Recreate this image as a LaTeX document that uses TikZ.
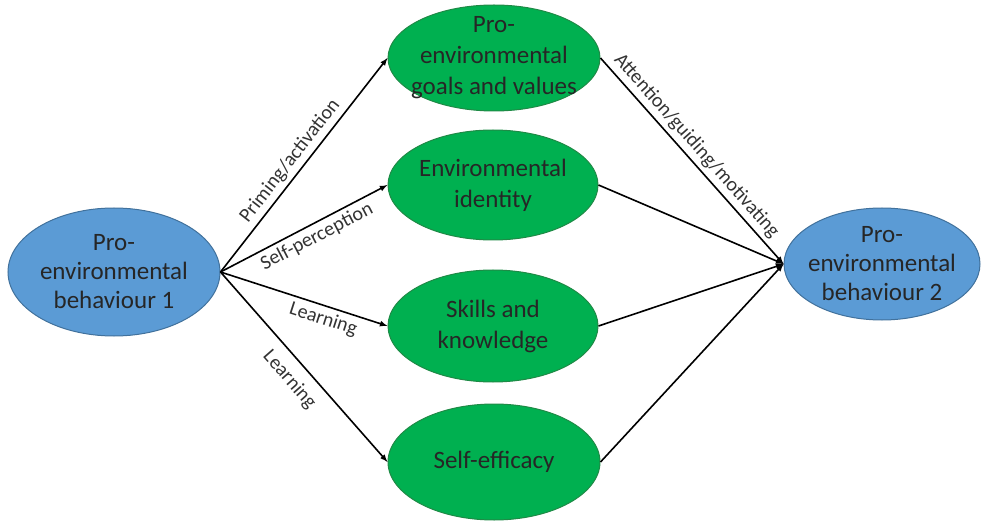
\documentclass[tikz,border=0pt]{standalone}
\usepackage{fontspec}
\setmainfont{Carlito}
\usetikzlibrary{shapes.geometric}
\definecolor{behblue}{HTML}{5B9BD5}
\definecolor{behline}{HTML}{41719C}
\definecolor{motgreen}{HTML}{00B050}
\definecolor{motline}{HTML}{1F8A46}

\begin{document}
\begin{tikzpicture}[x=1pt,y=-1pt,
  beh/.style={ellipse,draw=behline,fill=behblue,line width=1pt,inner sep=-20pt,align=center,text=black!85,font=\fontsize{25}{29}\selectfont},
  mot/.style={ellipse,draw=motline,fill=motgreen,line width=1pt,inner sep=-20pt,align=center,text=black!85,font=\fontsize{25}{31}\selectfont},
  conn/.style={-latex,line width=1.6pt},
  lbl/.style={sloped,text=black!80,inner sep=4pt,font=\fontsize{20}{24}\selectfont}]
\useasboundingbox (0,0) rectangle (982,521);
\node[beh,minimum width=212pt,minimum height=128pt] (beh1) at (114,272) {Pro-\\environmental\\behaviour 1};
\node[beh,minimum width=196pt,minimum height=112pt] (beh2) at (882,264) {Pro-\\environmental\\behaviour 2};
\node[mot,minimum width=212pt,minimum height=106pt] (goals) at (494,58) {Pro-\\environmental\\goals and values};
\node[mot,minimum width=210pt,minimum height=110pt] (ident) at (493,185) {Environmental\\identity};
\node[mot,minimum width=210pt,minimum height=112pt] (skills) at (493,326) {Skills and\\knowledge};
\node[mot,minimum width=212pt,minimum height=116pt] (effic) at (494,462) {Self-efficacy};
% behaviour 1 to the four factors
\draw[conn](beh1.east)to node[lbl,pos=0.48,above] {Priming/activation}(goals.west);
\draw[conn](beh1.east)to node[lbl,pos=0.54,below] {Self-perception}(ident.west);
\draw[conn](beh1.east)to node[lbl,pos=0.64,below] {Learning}(skills.west);
\draw[conn](beh1.east)to node[lbl,pos=0.50,below=6pt] {Learning}(effic.west);
% factors to behaviour 2
\draw[conn](goals.east)to node[lbl,pos=0.47,above] {Attention/guiding/motivating}(beh2.west);
\draw[conn](ident.east)to(beh2.west);
\draw[conn](skills.east)to(beh2.west);
\draw[conn](effic.east)to(beh2.west);
\end{tikzpicture}
\end{document}
